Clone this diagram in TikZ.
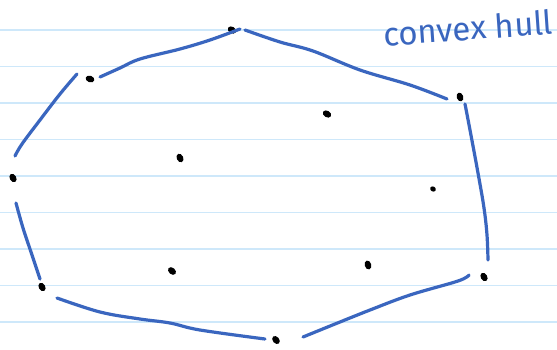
\documentclass[tikz,border=0pt]{standalone}
\usepackage{fontspec}
\setmainfont{Fira Sans}
\usetikzlibrary{shapes.geometric}
\definecolor{rule}{RGB}{206,232,250}
\definecolor{hull}{RGB}{58,102,191}
\tikzset{
  ruleline/.style={draw=rule, line width=1.6pt},
  dot/.style={ellipse, fill=black, inner sep=0pt, minimum width=9pt, minimum height=6.5pt},
  smalldot/.style={ellipse, fill=black, inner sep=0pt, minimum width=6pt, minimum height=5pt},
  hullseg/.style={draw=hull, line width=3.2pt, line cap=round, line join=round},
  label/.style={text=hull, font=\fontsize{33}{33}\selectfont, inner sep=0pt}
}
\begin{document}
\begin{tikzpicture}[x=1pt, y=-1pt]
\useasboundingbox (0,0) rectangle (557,349);
\fill[white] (0,0) rectangle (557,349);
\foreach \yy in {30,66.5,103,139.5,176,212.5,249,285.5,322}
  \draw[ruleline] (0,\yy) -- (557,\yy);
% hull points
\node[dot, rotate=-30] (d1) at (232,30) {};
\node[dot, rotate=-20] (d2) at (90,79) {};
\node[dot, rotate=-60] (d3) at (13,178) {};
\node[dot, rotate=-60] (d4) at (42,287) {};
\node[dot, rotate=-50] (d5) at (276,340) {};
\node[dot, rotate=-60] (d6) at (484,277) {};
\node[dot, rotate=-70] (d7) at (460,97) {};
% interior points
\node[dot, rotate=-30] (i1) at (327,114) {};
\node[dot, rotate=-65] (i2) at (180,158) {};
\node[smalldot, rotate=-30] (i3) at (433,189) {};
\node[dot, rotate=-40] (i4) at (172,271) {};
\node[dot, rotate=-75] (i5) at (368,265) {};
% hull segments
\draw[hullseg] plot[smooth, tension=0.6] coordinates {(77,74) (60,94) (40,120) (22,144) (15,156)};
\draw[hullseg] plot[smooth, tension=0.6] coordinates {(100,77) (120,68) (140,59) (180,49) (210,40) (240,29)};
\draw[hullseg] plot[smooth, tension=0.6] coordinates {(245,30) (280,42) (313,51) (360,70) (410,85) (447,99)};
\draw[hullseg] plot[smooth, tension=0.6] coordinates {(465,104) (470,130) (478,173) (484,208) (487,235) (488,260)};
\draw[hullseg] plot[smooth, tension=0.6] coordinates {(469,275) (458,281) (410,295) (370,310) (335,324) (303,337)};
\draw[hullseg] plot[smooth, tension=0.6] coordinates {(57,298) (100,312) (140,319) (170,323) (200,330) (265,339)};
\draw[hullseg] plot[smooth, tension=0.6] coordinates {(16,203) (23,228) (32,255) (40,279)};
% label
\node[label, rotate=4] (t) at (468,28) {convex hull};
\end{tikzpicture}
\end{document}
